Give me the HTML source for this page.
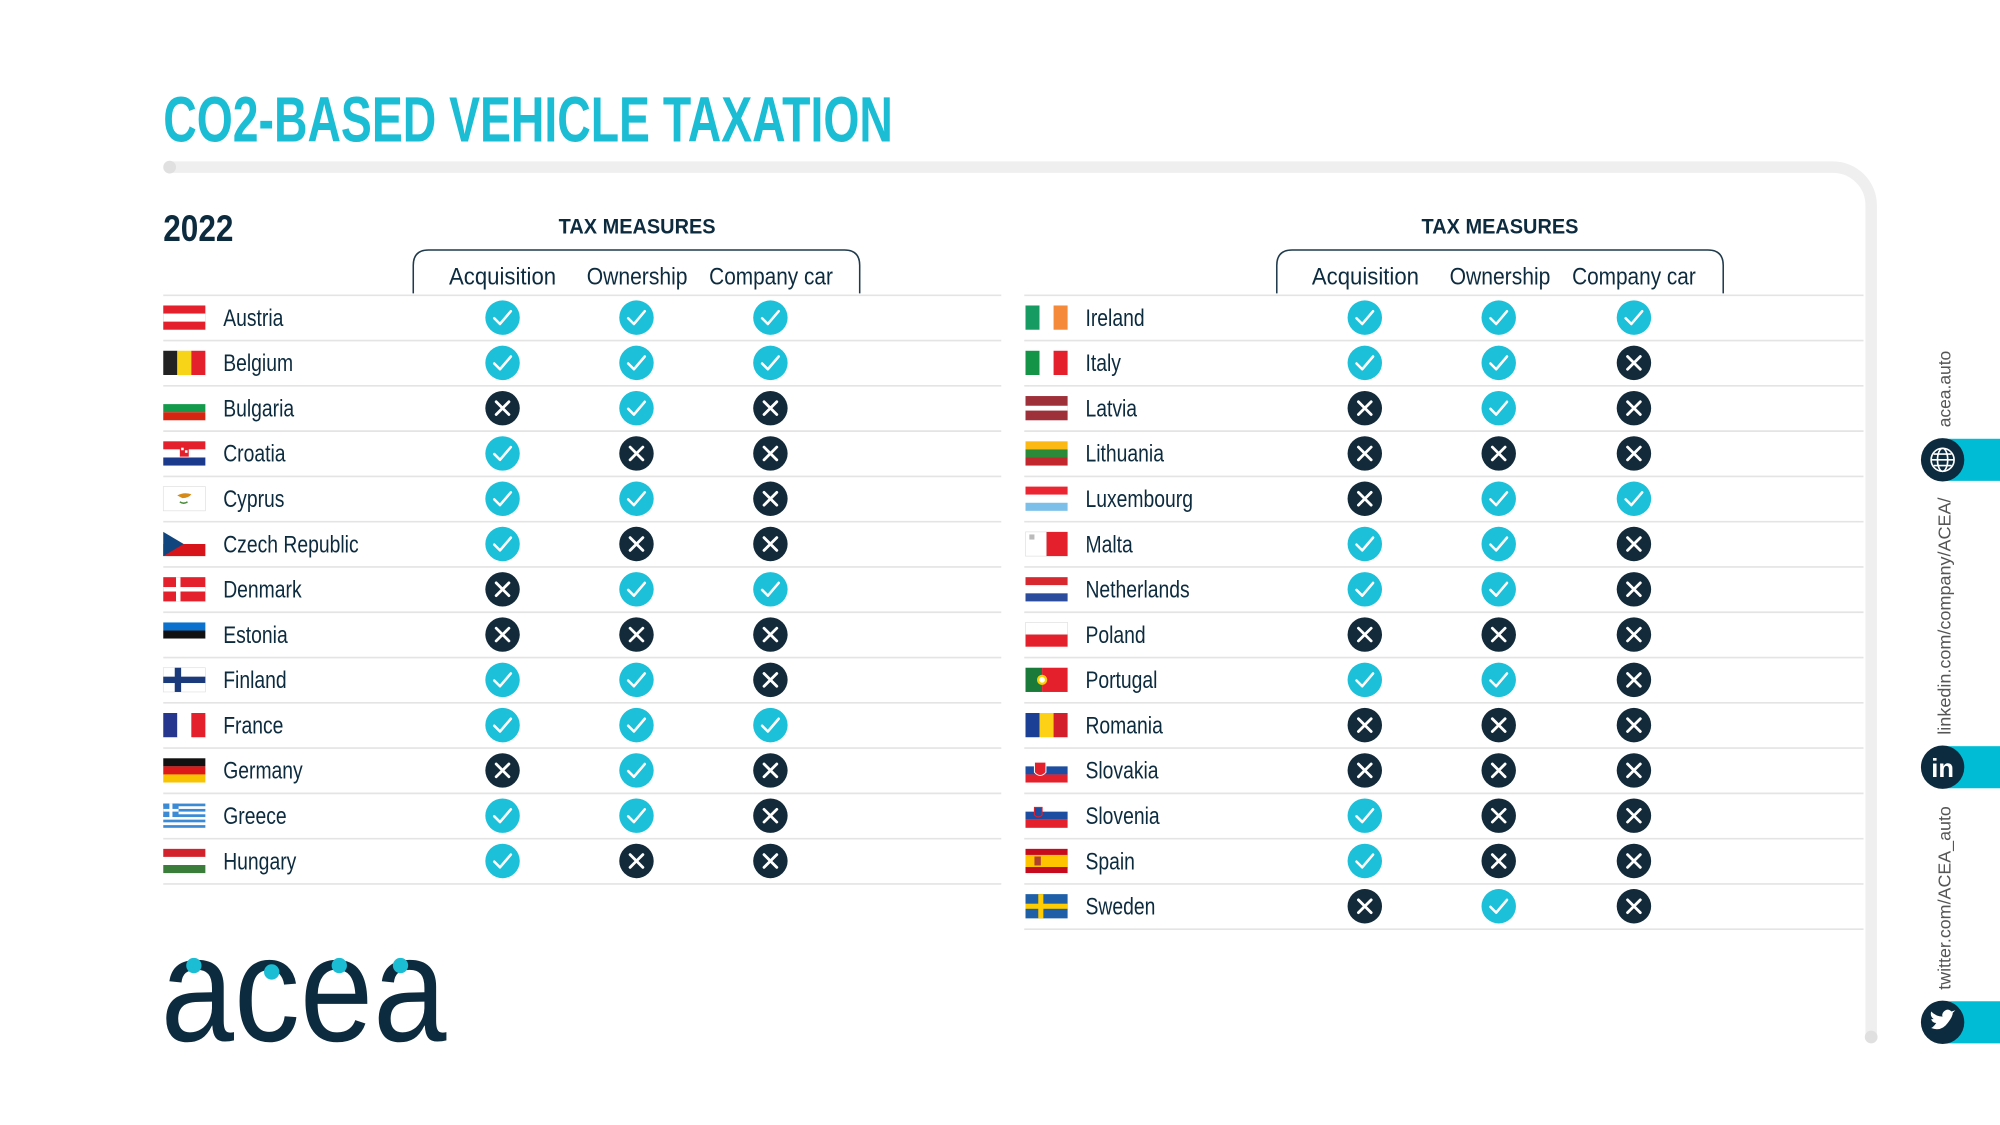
<!DOCTYPE html>
<html><head><meta charset="utf-8"><style>
html,body{margin:0;padding:0;background:#fff;}
svg{display:block;}
text{font-family:"Liberation Sans Narrow","Liberation Sans",sans-serif;}
</style></head><body>
<svg width="2000" height="1125" viewBox="0 0 1568 882" xmlns="http://www.w3.org/2000/svg">
<defs>
<g id="ok"><circle r="13.5" fill="#1cc0d8"/><path d="M-6.5,0.5 L-2,5 L6.5,-5" stroke="#fff" stroke-width="2" fill="none" stroke-linecap="round" stroke-linejoin="round"/></g>
<g id="no"><circle r="13.5" fill="#132a3a"/><path d="M-5,-5L5,5M5,-5L-5,5" stroke="#fff" stroke-width="2.2" stroke-linecap="round"/></g>
<g id="f-at"><rect width="33" height="19" fill="#e3202b"/><rect y="6.33" width="33" height="6.33" fill="#fff"/></g>
<g id="f-be"><rect width="11" height="19" fill="#222"/><rect x="11" width="11" height="19" fill="#f7d417"/><rect x="22" width="11" height="19" fill="#e3202b"/></g>
<g id="f-bg"><rect width="33" height="6.33" fill="#fff"/><rect y="6.33" width="33" height="6.34" fill="#139a4a"/><rect y="12.67" width="33" height="6.33" fill="#d62612"/></g>
<g id="f-hr"><rect width="33" height="6.33" fill="#e3202b"/><rect y="6.33" width="33" height="6.34" fill="#fff"/><rect y="12.67" width="33" height="6.33" fill="#1c3a8c"/><rect x="13" y="4" width="7" height="8" fill="#e3202b"/><rect x="14" y="5" width="2" height="2" fill="#fff"/><rect x="17" y="7" width="2" height="2" fill="#fff"/></g>
<g id="f-cy"><rect width="33" height="19" fill="#fff" stroke="#ddd" stroke-width="0.5"/><path d="M11,7 Q16,4 22,6 Q20,9 15,9 Z" fill="#d58a1a"/><path d="M13,12 Q16,14 19,12" stroke="#4a8c3a" stroke-width="1.2" fill="none"/></g>
<g id="f-cz"><rect width="33" height="9.5" fill="#fff"/><rect y="9.5" width="33" height="9.5" fill="#d7141a"/><path d="M0,0 L16,9.5 L0,19Z" fill="#11457e"/></g>
<g id="f-dk"><rect width="33" height="19" fill="#e3202b"/><rect x="10" width="3.5" height="19" fill="#fff"/><rect y="7.75" width="33" height="3.5" fill="#fff"/></g>
<g id="f-ee"><rect width="33" height="6.33" fill="#0a72ce"/><rect y="6.33" width="33" height="6.34" fill="#111"/><rect y="12.67" width="33" height="6.33" fill="#fff"/></g>
<g id="f-fi"><rect width="33" height="19" fill="#fff" stroke="#ddd" stroke-width="0.5"/><rect x="9" width="5" height="19" fill="#1a3a7c"/><rect y="7" width="33" height="5" fill="#1a3a7c"/></g>
<g id="f-fr"><rect width="11" height="19" fill="#26358e"/><rect x="11" width="11" height="19" fill="#fff"/><rect x="22" width="11" height="19" fill="#e3202b"/></g>
<g id="f-de"><rect width="33" height="6.33" fill="#111"/><rect y="6.33" width="33" height="6.34" fill="#dd1a1a"/><rect y="12.67" width="33" height="6.33" fill="#f8c300"/></g>
<g id="f-gr"><rect width="33" height="19" fill="#fff"/><rect y="0" width="33" height="2.1" fill="#3a8ad6"/><rect y="4.2" width="33" height="2.1" fill="#3a8ad6"/><rect y="8.4" width="33" height="2.1" fill="#3a8ad6"/><rect y="12.6" width="33" height="2.1" fill="#3a8ad6"/><rect y="16.9" width="33" height="2.1" fill="#3a8ad6"/><rect width="12" height="10.5" fill="#3a8ad6"/><rect x="4.8" width="2.4" height="10.5" fill="#fff"/><rect y="4.2" width="12" height="2.1" fill="#fff"/></g>
<g id="f-hu"><rect width="33" height="6.33" fill="#d2232c"/><rect y="6.33" width="33" height="6.34" fill="#fff"/><rect y="12.67" width="33" height="6.33" fill="#3a7d3a"/></g>
<g id="f-ie"><rect width="11" height="19" fill="#169b62"/><rect x="11" width="11" height="19" fill="#fff"/><rect x="22" width="11" height="19" fill="#f58a3a"/></g>
<g id="f-it"><rect width="11" height="19" fill="#149447"/><rect x="11" width="11" height="19" fill="#fff"/><rect x="22" width="11" height="19" fill="#e3202b"/></g>
<g id="f-lv"><rect width="33" height="19" fill="#9e3039"/><rect y="7.6" width="33" height="3.8" fill="#fff"/></g>
<g id="f-lt"><rect width="33" height="6.33" fill="#fdb913"/><rect y="6.33" width="33" height="6.34" fill="#2a8a3a"/><rect y="12.67" width="33" height="6.33" fill="#c1272d"/></g>
<g id="f-lu"><rect width="33" height="6.33" fill="#ec2533"/><rect y="6.33" width="33" height="6.34" fill="#fff"/><rect y="12.67" width="33" height="6.33" fill="#7cc0ea"/></g>
<g id="f-mt"><rect width="16.5" height="19" fill="#fff" stroke="#ddd" stroke-width="0.5"/><rect x="16.5" width="16.5" height="19" fill="#e3202b"/><rect x="3" y="2" width="4" height="4" fill="#bbb"/></g>
<g id="f-nl"><rect width="33" height="6.33" fill="#d7282f"/><rect y="6.33" width="33" height="6.34" fill="#fff"/><rect y="12.67" width="33" height="6.33" fill="#2b4b9c"/></g>
<g id="f-pl"><rect width="33" height="9.5" fill="#fff" stroke="#ddd" stroke-width="0.5"/><rect y="9.5" width="33" height="9.5" fill="#e3202b"/></g>
<g id="f-pt"><rect width="13" height="19" fill="#1a7a3a"/><rect x="13" width="20" height="19" fill="#e3202b"/><circle cx="13" cy="9.5" r="4" fill="#f8d000"/><circle cx="13" cy="9.5" r="2.2" fill="#fff"/></g>
<g id="f-ro"><rect width="11" height="19" fill="#1b3f94"/><rect x="11" width="11" height="19" fill="#fcd116"/><rect x="22" width="11" height="19" fill="#d21f2b"/></g>
<g id="f-sk"><rect width="33" height="6.33" fill="#fff"/><rect y="6.33" width="33" height="6.34" fill="#1c4da0"/><rect y="12.67" width="33" height="6.33" fill="#e3202b"/><path d="M7,3 h9 v8 q-4.5,5 -9,0z" fill="#e3202b" stroke="#fff" stroke-width="0.8"/></g>
<g id="f-si"><rect width="33" height="6.33" fill="#fff"/><rect y="6.33" width="33" height="6.34" fill="#1c4da0"/><rect y="12.67" width="33" height="6.33" fill="#e3202b"/><path d="M7,3 h6 v6 q-3,3 -6,0z" fill="#1c4da0" stroke="#e3202b" stroke-width="0.8"/></g>
<g id="f-es"><rect width="33" height="19" fill="#c60b1e"/><rect y="4.75" width="33" height="9.5" fill="#ffc400"/><rect x="7" y="6" width="5" height="7" fill="#b04030"/></g>
<g id="f-se"><rect width="33" height="19" fill="#1f5fa8"/><rect x="10" width="4" height="19" fill="#fecc00"/><rect y="7.5" width="33" height="4" fill="#fecc00"/></g>
</defs>

<rect width="1568" height="882" fill="#fff"/>

<text x="128" y="111" font-size="50" font-weight="bold" fill="#1bbdd5" textLength="572" lengthAdjust="spacingAndGlyphs">CO2-BASED VEHICLE TAXATION</text>

<path d="M133,131 H1437 A30,30 0 0 1 1467,161 V813" stroke="#efefef" stroke-width="9" fill="none" stroke-linecap="round"/>
<circle cx="133" cy="131" r="5" fill="#e0e0e0"/>
<circle cx="1467" cy="813" r="5" fill="#e0e0e0"/>

<text x="128" y="189" font-size="29" font-weight="bold" fill="#0d2b3e" textLength="55" lengthAdjust="spacingAndGlyphs">2022</text>

<text x="499.5" y="183" text-anchor="middle" font-size="17" font-weight="bold" fill="#0d2b3e" textLength="123" lengthAdjust="spacingAndGlyphs">TAX MEASURES</text>
<path d="M324,230 V208 Q324,196 336,196 H662 Q674,196 674,208 V230" fill="none" stroke="#1f3a4b" stroke-width="1.2"/>
<text x="394" y="223" text-anchor="middle" font-size="19" fill="#0d2b3e" textLength="84" lengthAdjust="spacingAndGlyphs">Acquisition</text>
<text x="499.5" y="223" text-anchor="middle" font-size="19" fill="#0d2b3e" textLength="79" lengthAdjust="spacingAndGlyphs">Ownership</text>
<text x="604.5" y="223" text-anchor="middle" font-size="19" fill="#0d2b3e" textLength="97" lengthAdjust="spacingAndGlyphs">Company car</text>

<text x="1176" y="183" text-anchor="middle" font-size="17" font-weight="bold" fill="#0d2b3e" textLength="123" lengthAdjust="spacingAndGlyphs">TAX MEASURES</text>
<path d="M1001,230 V208 Q1001,196 1013,196 H1339 Q1351,196 1351,208 V230" fill="none" stroke="#1f3a4b" stroke-width="1.2"/>
<text x="1070.5" y="223" text-anchor="middle" font-size="19" fill="#0d2b3e" textLength="84" lengthAdjust="spacingAndGlyphs">Acquisition</text>
<text x="1176" y="223" text-anchor="middle" font-size="19" fill="#0d2b3e" textLength="79" lengthAdjust="spacingAndGlyphs">Ownership</text>
<text x="1281" y="223" text-anchor="middle" font-size="19" fill="#0d2b3e" textLength="97" lengthAdjust="spacingAndGlyphs">Company car</text>

<g stroke="#e4e4e4" stroke-width="1.3">
<path d="M128,231.5H785M128,267H785M128,302.5H785M128,338H785M128,373.5H785M128,409H785M128,444.5H785M128,480H785M128,515.5H785M128,551H785M128,586.5H785M128,622H785M128,657.5H785M128,693H785"/>
<path d="M803,231.5H1461M803,267H1461M803,302.5H1461M803,338H1461M803,373.5H1461M803,409H1461M803,444.5H1461M803,480H1461M803,515.5H1461M803,551H1461M803,586.5H1461M803,622H1461M803,657.5H1461M803,693H1461M803,728.5H1461"/>
</g>

<g font-size="18.5" fill="#0d2b3e">
<g transform="translate(0,249)"><use href="#f-at" x="128" y="-9.5"/><text transform="translate(175,6.5) scale(0.82,1)">Austria</text><use href="#ok" x="394"/><use href="#ok" x="499"/><use href="#ok" x="604"/></g>
<g transform="translate(0,284.5)"><use href="#f-be" x="128" y="-9.5"/><text transform="translate(175,6.5) scale(0.82,1)">Belgium</text><use href="#ok" x="394"/><use href="#ok" x="499"/><use href="#ok" x="604"/></g>
<g transform="translate(0,320)"><use href="#f-bg" x="128" y="-9.5"/><text transform="translate(175,6.5) scale(0.82,1)">Bulgaria</text><use href="#no" x="394"/><use href="#ok" x="499"/><use href="#no" x="604"/></g>
<g transform="translate(0,355.5)"><use href="#f-hr" x="128" y="-9.5"/><text transform="translate(175,6.5) scale(0.82,1)">Croatia</text><use href="#ok" x="394"/><use href="#no" x="499"/><use href="#no" x="604"/></g>
<g transform="translate(0,391)"><use href="#f-cy" x="128" y="-9.5"/><text transform="translate(175,6.5) scale(0.82,1)">Cyprus</text><use href="#ok" x="394"/><use href="#ok" x="499"/><use href="#no" x="604"/></g>
<g transform="translate(0,426.5)"><use href="#f-cz" x="128" y="-9.5"/><text transform="translate(175,6.5) scale(0.82,1)">Czech Republic</text><use href="#ok" x="394"/><use href="#no" x="499"/><use href="#no" x="604"/></g>
<g transform="translate(0,462)"><use href="#f-dk" x="128" y="-9.5"/><text transform="translate(175,6.5) scale(0.82,1)">Denmark</text><use href="#no" x="394"/><use href="#ok" x="499"/><use href="#ok" x="604"/></g>
<g transform="translate(0,497.5)"><use href="#f-ee" x="128" y="-9.5"/><text transform="translate(175,6.5) scale(0.82,1)">Estonia</text><use href="#no" x="394"/><use href="#no" x="499"/><use href="#no" x="604"/></g>
<g transform="translate(0,533)"><use href="#f-fi" x="128" y="-9.5"/><text transform="translate(175,6.5) scale(0.82,1)">Finland</text><use href="#ok" x="394"/><use href="#ok" x="499"/><use href="#no" x="604"/></g>
<g transform="translate(0,568.5)"><use href="#f-fr" x="128" y="-9.5"/><text transform="translate(175,6.5) scale(0.82,1)">France</text><use href="#ok" x="394"/><use href="#ok" x="499"/><use href="#ok" x="604"/></g>
<g transform="translate(0,604)"><use href="#f-de" x="128" y="-9.5"/><text transform="translate(175,6.5) scale(0.82,1)">Germany</text><use href="#no" x="394"/><use href="#ok" x="499"/><use href="#no" x="604"/></g>
<g transform="translate(0,639.5)"><use href="#f-gr" x="128" y="-9.5"/><text transform="translate(175,6.5) scale(0.82,1)">Greece</text><use href="#ok" x="394"/><use href="#ok" x="499"/><use href="#no" x="604"/></g>
<g transform="translate(0,675)"><use href="#f-hu" x="128" y="-9.5"/><text transform="translate(175,6.5) scale(0.82,1)">Hungary</text><use href="#ok" x="394"/><use href="#no" x="499"/><use href="#no" x="604"/></g>

<g transform="translate(0,249)"><use href="#f-ie" x="804" y="-9.5"/><text transform="translate(851,6.5) scale(0.82,1)">Ireland</text><use href="#ok" x="1070"/><use href="#ok" x="1175"/><use href="#ok" x="1281"/></g>
<g transform="translate(0,284.5)"><use href="#f-it" x="804" y="-9.5"/><text transform="translate(851,6.5) scale(0.82,1)">Italy</text><use href="#ok" x="1070"/><use href="#ok" x="1175"/><use href="#no" x="1281"/></g>
<g transform="translate(0,320)"><use href="#f-lv" x="804" y="-9.5"/><text transform="translate(851,6.5) scale(0.82,1)">Latvia</text><use href="#no" x="1070"/><use href="#ok" x="1175"/><use href="#no" x="1281"/></g>
<g transform="translate(0,355.5)"><use href="#f-lt" x="804" y="-9.5"/><text transform="translate(851,6.5) scale(0.82,1)">Lithuania</text><use href="#no" x="1070"/><use href="#no" x="1175"/><use href="#no" x="1281"/></g>
<g transform="translate(0,391)"><use href="#f-lu" x="804" y="-9.5"/><text transform="translate(851,6.5) scale(0.82,1)">Luxembourg</text><use href="#no" x="1070"/><use href="#ok" x="1175"/><use href="#ok" x="1281"/></g>
<g transform="translate(0,426.5)"><use href="#f-mt" x="804" y="-9.5"/><text transform="translate(851,6.5) scale(0.82,1)">Malta</text><use href="#ok" x="1070"/><use href="#ok" x="1175"/><use href="#no" x="1281"/></g>
<g transform="translate(0,462)"><use href="#f-nl" x="804" y="-9.5"/><text transform="translate(851,6.5) scale(0.82,1)">Netherlands</text><use href="#ok" x="1070"/><use href="#ok" x="1175"/><use href="#no" x="1281"/></g>
<g transform="translate(0,497.5)"><use href="#f-pl" x="804" y="-9.5"/><text transform="translate(851,6.5) scale(0.82,1)">Poland</text><use href="#no" x="1070"/><use href="#no" x="1175"/><use href="#no" x="1281"/></g>
<g transform="translate(0,533)"><use href="#f-pt" x="804" y="-9.5"/><text transform="translate(851,6.5) scale(0.82,1)">Portugal</text><use href="#ok" x="1070"/><use href="#ok" x="1175"/><use href="#no" x="1281"/></g>
<g transform="translate(0,568.5)"><use href="#f-ro" x="804" y="-9.5"/><text transform="translate(851,6.5) scale(0.82,1)">Romania</text><use href="#no" x="1070"/><use href="#no" x="1175"/><use href="#no" x="1281"/></g>
<g transform="translate(0,604)"><use href="#f-sk" x="804" y="-9.5"/><text transform="translate(851,6.5) scale(0.82,1)">Slovakia</text><use href="#no" x="1070"/><use href="#no" x="1175"/><use href="#no" x="1281"/></g>
<g transform="translate(0,639.5)"><use href="#f-si" x="804" y="-9.5"/><text transform="translate(851,6.5) scale(0.82,1)">Slovenia</text><use href="#ok" x="1070"/><use href="#no" x="1175"/><use href="#no" x="1281"/></g>
<g transform="translate(0,675)"><use href="#f-es" x="804" y="-9.5"/><text transform="translate(851,6.5) scale(0.82,1)">Spain</text><use href="#ok" x="1070"/><use href="#no" x="1175"/><use href="#no" x="1281"/></g>
<g transform="translate(0,710.5)"><use href="#f-se" x="804" y="-9.5"/><text transform="translate(851,6.5) scale(0.82,1)">Sweden</text><use href="#no" x="1070"/><use href="#ok" x="1175"/><use href="#no" x="1281"/></g>
</g>

<text x="126" y="816" font-size="118" fill="#0d2b3e" font-family="Liberation Sans, sans-serif" textLength="224" lengthAdjust="spacingAndGlyphs">acea</text>
<g fill="#1bbdd5">
<circle cx="152" cy="757" r="6"/><circle cx="213" cy="762" r="6"/><circle cx="266" cy="757" r="6"/><circle cx="314" cy="757" r="6"/>
</g>

<rect x="1522" y="344" width="46" height="33" fill="#00bcd4"/>
<circle cx="1523" cy="360.5" r="17" fill="#0d2b3e"/>
<g stroke="#fff" stroke-width="1.3" fill="none"><circle cx="1523" cy="360.5" r="9"/><ellipse cx="1523" cy="360.5" rx="4" ry="9"/><path d="M1514,360.5H1532M1516,356H1530M1516,365H1530"/></g>

<rect x="1522" y="585" width="46" height="33" fill="#00bcd4"/>
<circle cx="1523" cy="601.5" r="17" fill="#0d2b3e"/>
<text x="1523" y="609" text-anchor="middle" font-size="20" font-weight="bold" fill="#fff" font-family="Liberation Sans, sans-serif">in</text>

<rect x="1522" y="785" width="46" height="33" fill="#00bcd4"/>
<circle cx="1523" cy="801.5" r="17" fill="#0d2b3e"/>
<path d="M1514,806 Q1522,809 1527,802 Q1531,797 1531,794 L1533,792 L1530,793 Q1527,790 1524,793 Q1522,795 1523,797 Q1518,797 1514,793 Q1513,797 1516,799 L1514,799 Q1515,802 1518,802 Q1516,805 1514,806Z" fill="#fff"/>

<g font-size="14" fill="#555">
<text transform="translate(1529,335) rotate(-90)" textLength="60" lengthAdjust="spacingAndGlyphs">acea.auto</text>
<text transform="translate(1529,576) rotate(-90)" textLength="186" lengthAdjust="spacingAndGlyphs">linkedin.com/company/ACEA/</text>
<text transform="translate(1529,776) rotate(-90)" textLength="144" lengthAdjust="spacingAndGlyphs">twitter.com/ACEA_auto</text>
</g>
</svg>
</body></html>
